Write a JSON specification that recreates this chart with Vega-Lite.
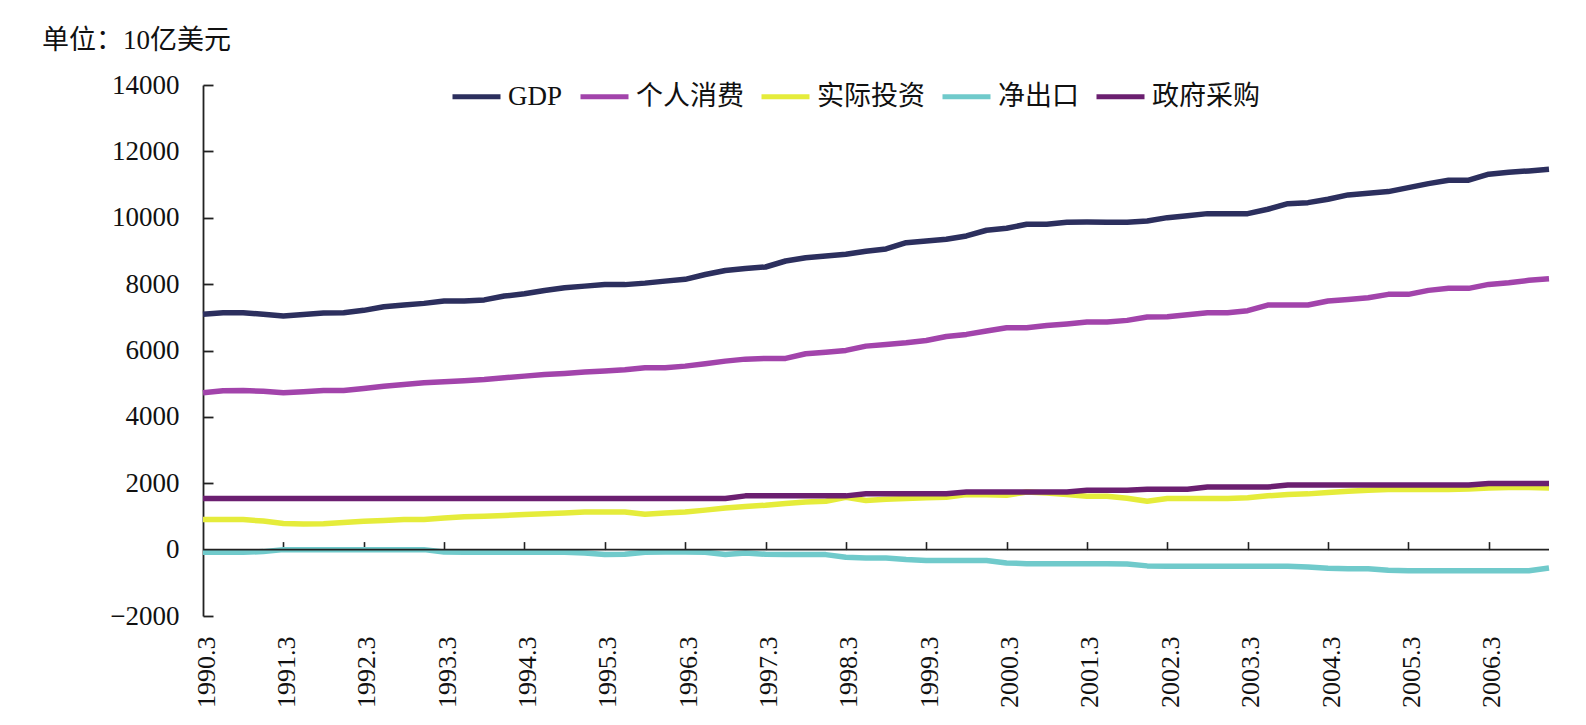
{
  "$schema": "https://vega.github.io/schema/vega-lite/v6.json",
  "width": 1346,
  "height": 531,
  "autosize": {"type": "none"},
  "padding": {"left": 203, "top": 85, "right": 37, "bottom": 109},
  "background": "white",
  "title": {
    "text": "单位：10亿美元",
    "anchor": "start",
    "frame": "group",
    "dx": -161,
    "dy": 45,
    "offset": 33,
    "baseline": "bottom",
    "font": "Liberation Serif, Noto Sans CJK SC",
    "fontSize": 27,
    "fontWeight": "normal",
    "color": "#111111"
  },
  "config": {
    "view": {"stroke": null},
    "axis": {
      "grid": false,
      "labelFont": "Liberation Serif",
      "labelFontSize": 27,
      "labelColor": "#111111",
      "domainColor": "#222222",
      "tickColor": "#222222"
    }
  },
  "data": {
    "values": [
      {"q": "1990.3", "GDP": 7090, "个人消费": 4724, "实际投资": 905, "净出口": -80, "政府采购": 1540},
      {"q": "1990.6", "GDP": 7135, "个人消费": 4790, "实际投资": 905, "净出口": -80, "政府采购": 1540},
      {"q": "1990.9", "GDP": 7140, "个人消费": 4796, "实际投资": 905, "净出口": -80, "政府采购": 1540},
      {"q": "1990.12", "GDP": 7090, "个人消费": 4770, "实际投资": 860, "净出口": -60, "政府采购": 1540},
      {"q": "1991.3", "GDP": 7040, "个人消费": 4724, "实际投资": 790, "净出口": 0, "政府采购": 1540},
      {"q": "1991.6", "GDP": 7085, "个人消费": 4760, "实际投资": 775, "净出口": 0, "政府采购": 1540},
      {"q": "1991.9", "GDP": 7130, "个人消费": 4796, "实际投资": 780, "净出口": 0, "政府采购": 1540},
      {"q": "1991.12", "GDP": 7140, "个人消费": 4796, "实际投资": 820, "净出口": 0, "政府采购": 1540},
      {"q": "1992.3", "GDP": 7210, "个人消费": 4857, "实际投资": 854, "净出口": 0, "政府采购": 1540},
      {"q": "1992.6", "GDP": 7320, "个人消费": 4926, "实际投资": 880, "净出口": 0, "政府采购": 1540},
      {"q": "1992.9", "GDP": 7370, "个人消费": 4977, "实际投资": 905, "净出口": 0, "政府采购": 1540},
      {"q": "1992.12", "GDP": 7420, "个人消费": 5027, "实际投资": 910, "净出口": 0, "政府采购": 1540},
      {"q": "1993.3", "GDP": 7490, "个人消费": 5057, "实际投资": 950, "净出口": -70, "政府采购": 1540},
      {"q": "1993.6", "GDP": 7490, "个人消费": 5090, "实际投资": 990, "净出口": -80, "政府采购": 1540},
      {"q": "1993.9", "GDP": 7525, "个人消费": 5128, "实际投资": 1005, "净出口": -80, "政府采购": 1540},
      {"q": "1993.12", "GDP": 7640, "个人消费": 5180, "实际投资": 1030, "净出口": -80, "政府采购": 1540},
      {"q": "1994.3", "GDP": 7710, "个人消费": 5228, "实际投资": 1056, "净出口": -80, "政府采购": 1540},
      {"q": "1994.6", "GDP": 7810, "个人消费": 5279, "实际投资": 1080, "净出口": -80, "政府采购": 1540},
      {"q": "1994.9", "GDP": 7890, "个人消费": 5310, "实际投资": 1106, "净出口": -80, "政府采购": 1540},
      {"q": "1994.12", "GDP": 7940, "个人消费": 5349, "实际投资": 1136, "净出口": -100, "政府采购": 1540},
      {"q": "1995.3", "GDP": 7990, "个人消费": 5379, "实际投资": 1136, "净出口": -150, "政府采购": 1540},
      {"q": "1995.6", "GDP": 7985, "个人消费": 5420, "实际投资": 1136, "净出口": -140, "政府采购": 1540},
      {"q": "1995.9", "GDP": 8030, "个人消费": 5479, "实际投资": 1065, "净出口": -80, "政府采购": 1540},
      {"q": "1995.12", "GDP": 8090, "个人消费": 5479, "实际投资": 1100, "净出口": -75, "政府采购": 1540},
      {"q": "1996.3", "GDP": 8145, "个人消费": 5529, "实际投资": 1136, "净出口": -75, "政府采购": 1540},
      {"q": "1996.6", "GDP": 8290, "个人消费": 5600, "实际投资": 1190, "净出口": -80, "政府采购": 1540},
      {"q": "1996.9", "GDP": 8410, "个人消费": 5680, "实际投资": 1256, "净出口": -150, "政府采购": 1540},
      {"q": "1996.12", "GDP": 8470, "个人消费": 5740, "实际投资": 1300, "净出口": -100, "政府采购": 1620},
      {"q": "1997.3", "GDP": 8516, "个人消费": 5761, "实际投资": 1337, "净出口": -140, "政府采购": 1620},
      {"q": "1997.6", "GDP": 8697, "个人消费": 5761, "实际投资": 1390, "净出口": -145, "政府采购": 1620},
      {"q": "1997.9", "GDP": 8797, "个人消费": 5901, "实际投资": 1437, "净出口": -150, "政府采购": 1620},
      {"q": "1997.12", "GDP": 8850, "个人消费": 5950, "实际投资": 1457, "净出口": -150, "政府采购": 1620},
      {"q": "1998.3", "GDP": 8898, "个人消费": 6002, "实际投资": 1578, "净出口": -230, "政府采购": 1620},
      {"q": "1998.6", "GDP": 8990, "个人消费": 6132, "实际投资": 1478, "净出口": -250, "政府采购": 1685},
      {"q": "1998.9", "GDP": 9060, "个人消费": 6180, "实际投资": 1520, "净出口": -255, "政府采购": 1685},
      {"q": "1998.12", "GDP": 9250, "个人消费": 6233, "实际投资": 1540, "净出口": -300, "政府采购": 1685},
      {"q": "1999.3", "GDP": 9300, "个人消费": 6303, "实际投资": 1560, "净出口": -330, "政府采购": 1685},
      {"q": "1999.6", "GDP": 9351, "个人消费": 6420, "实际投资": 1578, "净出口": -330, "政府采购": 1685},
      {"q": "1999.9", "GDP": 9451, "个人消费": 6485, "实际投资": 1659, "净出口": -330, "政府采购": 1738},
      {"q": "1999.12", "GDP": 9623, "个人消费": 6585, "实际投资": 1650, "净出口": -330, "政府采购": 1738},
      {"q": "2000.3", "GDP": 9683, "个人消费": 6685, "实际投资": 1638, "净出口": -400, "政府采购": 1738},
      {"q": "2000.6", "GDP": 9804, "个人消费": 6685, "实际投资": 1738, "净出口": -423, "政府采购": 1738},
      {"q": "2000.9", "GDP": 9804, "个人消费": 6756, "实际投资": 1709, "净出口": -423, "政府采购": 1738},
      {"q": "2000.12", "GDP": 9864, "个人消费": 6800, "实际投资": 1659, "净出口": -423, "政府采购": 1738},
      {"q": "2001.3", "GDP": 9870, "个人消费": 6857, "实际投资": 1608, "净出口": -423, "政府采购": 1789},
      {"q": "2001.6", "GDP": 9864, "个人消费": 6857, "实际投资": 1608, "净出口": -423, "政府采购": 1789},
      {"q": "2001.9", "GDP": 9864, "个人消费": 6908, "实际投资": 1550, "净出口": -430, "政府采购": 1789},
      {"q": "2001.12", "GDP": 9900, "个人消费": 7008, "实际投资": 1457, "净出口": -490, "政府采购": 1820},
      {"q": "2002.3", "GDP": 10003, "个人消费": 7020, "实际投资": 1540, "净出口": -500, "政府采购": 1820},
      {"q": "2002.6", "GDP": 10060, "个人消费": 7080, "实际投资": 1540, "净出口": -503, "政府采购": 1820},
      {"q": "2002.9", "GDP": 10124, "个人消费": 7138, "实际投资": 1540, "净出口": -503, "政府采购": 1885},
      {"q": "2002.12", "GDP": 10124, "个人消费": 7138, "实际投资": 1540, "净出口": -503, "政府采购": 1885},
      {"q": "2003.3", "GDP": 10124, "个人消费": 7200, "实际投资": 1560, "净出口": -503, "政府采购": 1885},
      {"q": "2003.6", "GDP": 10256, "个人消费": 7370, "实际投资": 1620, "净出口": -503, "政府采购": 1885},
      {"q": "2003.9", "GDP": 10425, "个人消费": 7370, "实际投资": 1660, "净出口": -503, "政府采购": 1945},
      {"q": "2003.12", "GDP": 10455, "个人消费": 7370, "实际投资": 1680, "净出口": -520, "政府采购": 1945},
      {"q": "2004.3", "GDP": 10558, "个人消费": 7490, "实际投资": 1720, "净出口": -560, "政府采购": 1945},
      {"q": "2004.6", "GDP": 10688, "个人消费": 7540, "实际投资": 1759, "净出口": -574, "政府采购": 1945},
      {"q": "2004.9", "GDP": 10739, "个人消费": 7590, "实际投资": 1790, "净出口": -574, "政府采购": 1945},
      {"q": "2004.12", "GDP": 10788, "个人消费": 7692, "实际投资": 1810, "净出口": -620, "政府采购": 1945},
      {"q": "2005.3", "GDP": 10908, "个人消费": 7692, "实际投资": 1810, "净出口": -634, "政府采购": 1945},
      {"q": "2005.6", "GDP": 11029, "个人消费": 7812, "实际投资": 1810, "净出口": -634, "政府采购": 1945},
      {"q": "2005.9", "GDP": 11131, "个人消费": 7873, "实际投资": 1815, "净出口": -634, "政府采购": 1945},
      {"q": "2005.12", "GDP": 11131, "个人消费": 7873, "实际投资": 1830, "净出口": -634, "政府采购": 1945},
      {"q": "2006.3", "GDP": 11312, "个人消费": 7992, "实际投资": 1860, "净出口": -634, "政府采购": 1995},
      {"q": "2006.6", "GDP": 11372, "个人消费": 8042, "实际投资": 1870, "净出口": -634, "政府采购": 1995},
      {"q": "2006.9", "GDP": 11412, "个人消费": 8115, "实际投资": 1870, "净出口": -634, "政府采购": 1995},
      {"q": "2006.12", "GDP": 11463, "个人消费": 8163, "实际投资": 1860, "净出口": -554, "政府采购": 1995}
    ]
  },
  "layer": [
    {
      "transform": [
        {"fold": ["GDP", "个人消费", "实际投资", "净出口", "政府采购"], "as": ["series", "value"]}
      ],
      "mark": {"type": "line", "strokeWidth": 5.5, "strokeCap": "butt", "strokeJoin": "round"},
      "encoding": {
        "x": {
          "field": "q",
          "type": "ordinal",
          "sort": null,
          "scale": {"type": "point", "padding": 0},
          "axis": {
            "orient": "bottom",
            "title": null,
            "values": ["1990.3", "1991.3", "1992.3", "1993.3", "1994.3", "1995.3", "1996.3", "1997.3", "1998.3", "1999.3", "2000.3", "2001.3", "2002.3", "2003.3", "2004.3", "2005.3", "2006.3"],
            "labelAngle": -90,
            "labelFontSize": 26,
            "labelPadding": 20,
            "labelOffset": 3,
            "domain": false,
            "ticks": false,
            "tickSize": 0
          }
        },
        "y": {
          "field": "value",
          "type": "quantitative",
          "scale": {"domain": [-2000, 14000], "nice": false, "zero": false},
          "axis": {
            "title": null,
            "format": "d",
            "values": [-2000, 0, 2000, 4000, 6000, 8000, 10000, 12000, 14000],
            "tickSize": -10,
            "labelPadding": 34,
            "domainWidth": 1.8,
            "tickWidth": 1.8
          }
        },
        "color": {
          "field": "series",
          "type": "nominal",
          "sort": ["GDP", "个人消费", "实际投资", "净出口", "政府采购"],
          "scale": {
            "domain": ["GDP", "个人消费", "实际投资", "净出口", "政府采购"],
            "range": ["#2c2f5e", "#a244ab", "#e5ec3b", "#70cacb", "#6b1f70"]
          },
          "legend": {
            "orient": "none",
            "direction": "horizontal",
            "legendX": 247,
            "legendY": -15,
            "title": null,
            "padding": 0,
            "symbolType": "stroke",
            "symbolSize": 2304,
            "symbolStrokeWidth": 5,
            "labelFont": "Liberation Serif, Noto Sans CJK SC",
            "labelFontSize": 27,
            "labelColor": "#111111",
            "labelOffset": 5,
            "columnPadding": 7
          }
        }
      }
    },
    {
      "mark": {"type": "line", "color": "#222222", "strokeWidth": 1.6},
      "encoding": {
        "x": {
          "field": "q",
          "type": "ordinal",
          "sort": null,
          "scale": {"type": "point", "padding": 0},
          "axis": {
            "orient": "top",
            "offset": -464.6,
            "title": null,
            "values": ["1991.3", "1992.3", "1993.3", "1994.3", "1995.3", "1996.3", "1997.3", "1998.3", "1999.3", "2000.3", "2001.3", "2002.3", "2003.3", "2004.3", "2005.3", "2006.3"],
            "labels": false,
            "domain": false,
            "ticks": true,
            "tickSize": 8,
            "tickWidth": 1.6
          }
        },
        "y": {
          "datum": 0,
          "type": "quantitative",
          "scale": {"domain": [-2000, 14000], "nice": false, "zero": false},
          "axis": {
            "title": null,
            "format": "d",
            "values": [-2000, 0, 2000, 4000, 6000, 8000, 10000, 12000, 14000],
            "tickSize": -10,
            "labelPadding": 34,
            "domainWidth": 1.8,
            "tickWidth": 1.8
          }
        }
      }
    }
  ],
  "resolve": {"axis": {"x": "independent"}}
}
